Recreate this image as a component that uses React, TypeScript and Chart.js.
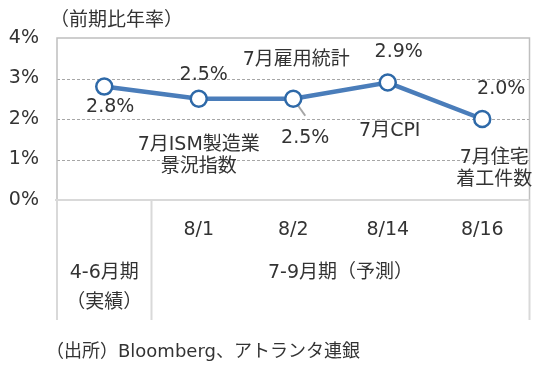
import React, { useEffect, useRef } from "react";
import { Chart, registerables } from "chart.js";

Chart.register(...registerables);

const categories = ["4-6月期（実績）", "8/1", "8/2", "8/14", "8/16"];
const tickLabels = ["", "8/1", "8/2", "8/14", "8/16"];
const values = [2.8, 2.5, 2.5, 2.9, 2.0];
const valueLabels = ["2.8%", "2.5%", "2.5%", "2.9%", "2.0%"];
const eventLabels = [[], ["7月ISM製造業", "景況指数"], ["7月雇用統計"], ["7月CPI"], ["7月住宅", "着工件数"]];
const groupLabels = [["4-6月期", "（実績）"], ["7-9月期（予測）"]];
const groupSpans = [[0, 0], [1, 4]];
const yTicks = [0, 1, 2, 3, 4];
const titleText = "（前期比年率）";
const sourceText = "（出所）Bloomberg、アトランタ連銀";

const FONT = "'DejaVu Sans', 'Noto Sans CJK JP', sans-serif";
const TEXT = "#333333";

// label placement relative to each point (pixels)
const valueOffsets = [[6, 20], [5, -24], [12, 39], [11, -30], [19, -30]];
const eventOffsets = [[0, 0], [0, 46], [3, -39], [2, 49], [12, 39]];
const leaderIndex = 2;

const overlay = {
  id: "overlay",
  beforeDatasetsDraw(chart: any) {
    const { ctx, chartArea, scales } = chart;
    const y = scales.y;
    ctx.save();
    // dashed gridlines
    ctx.strokeStyle = "#A6A6A6";
    ctx.lineWidth = 1;
    ctx.setLineDash([3, 2]);
    yTicks.forEach((t) => {
      if (t === 0 || t === 4) return;
      const py = Math.round(y.getPixelForValue(t)) + 0.5;
      ctx.beginPath();
      ctx.moveTo(chartArea.left, py);
      ctx.lineTo(chartArea.right, py);
      ctx.stroke();
    });
    ctx.setLineDash([]);
    // plot border
    ctx.strokeStyle = "#BFBFBF";
    ctx.lineWidth = 1.5;
    ctx.beginPath();
    ctx.moveTo(chartArea.left, chartArea.bottom);
    ctx.lineTo(chartArea.left, chartArea.top);
    ctx.lineTo(chartArea.right, chartArea.top);
    ctx.lineTo(chartArea.right, chartArea.bottom);
    ctx.stroke();
    // table lines
    const tableBottom = 320;
    const x = scales.x;
    ctx.strokeStyle = "#D9D9D9";
    ctx.lineWidth = 2;
    ctx.beginPath();
    ctx.moveTo(chartArea.left - 2, chartArea.bottom);
    ctx.lineTo(chartArea.right, chartArea.bottom);
    ctx.stroke();
    const half = (x.getPixelForValue(1) - x.getPixelForValue(0)) / 2;
    const xs = [chartArea.left, x.getPixelForValue(0) + half, chartArea.right];
    xs.forEach((vx) => {
      ctx.beginPath();
      ctx.moveTo(vx, chartArea.bottom);
      ctx.lineTo(vx, tableBottom);
      ctx.stroke();
    });
    // leader line
    const lp = chart.getDatasetMeta(0).data[leaderIndex];
    ctx.strokeStyle = "#A6A6A6";
    ctx.lineWidth = 2;
    ctx.beginPath();
    ctx.moveTo(lp.x, lp.y);
    ctx.lineTo(lp.x + 12, lp.y + 17);
    ctx.stroke();
    ctx.restore();
  },
  afterDraw(chart: any) {
    const { ctx, chartArea, scales } = chart;
    const x = scales.x;
    const pts = chart.getDatasetMeta(0).data;
    ctx.save();
    ctx.fillStyle = TEXT;
    ctx.textBaseline = "middle";
    ctx.textAlign = "center";
    ctx.font = `19px ${FONT}`;
    pts.forEach((p: any, i: number) => {
      ctx.fillText(valueLabels[i], p.x + valueOffsets[i][0], p.y + valueOffsets[i][1]);
      eventLabels[i].forEach((line: string, j: number) => {
        ctx.fillText(line, p.x + eventOffsets[i][0], p.y + eventOffsets[i][1] + j * 22);
      });
    });
    // tick labels
    tickLabels.forEach((t, i) => {
      if (t) ctx.fillText(t, x.getPixelForValue(i), chartArea.bottom + 30);
    });
    // group labels
    groupLabels.forEach((lines, g) => {
      const [a, b] = groupSpans[g];
      const cx = (x.getPixelForValue(a) + x.getPixelForValue(b)) / 2;
      lines.forEach((line, j) => {
        ctx.fillText(line, cx, chartArea.bottom + 73 + j * 30);
      });
    });
    // title & source
    ctx.textAlign = "left";
    ctx.fillText(titleText, 50, 21);
    ctx.font = `18px ${FONT}`;
    ctx.fillText(sourceText, 46, 352);
    ctx.restore();
  },
};

export default function App() {
  const ref = useRef<HTMLCanvasElement>(null);
  useEffect(() => {
    if (!ref.current) return;
    const chart = new Chart(ref.current, {
      type: "line",
      data: {
        labels: categories,
        datasets: [
          {
            data: values,
            borderColor: "#4A7DBA",
            borderWidth: 4.5,
            pointRadius: 8,
            pointBorderWidth: 2.5,
            pointBackgroundColor: "#FFFFFF",
            pointBorderColor: "#2E69A8",
            tension: 0,
          },
        ],
      },
      plugins: [overlay],
      options: {
        responsive: false,
        animation: false,
        devicePixelRatio: 1,
        layout: { padding: { left: 0, top: 38, right: 5, bottom: 173 } },
        plugins: { legend: { display: false }, tooltip: { enabled: false }, title: { display: false } },
        scales: {
          x: { type: "category", offset: true, display: false },
          y: {
            min: 0,
            max: 4,
            afterFit: (s: any) => { s.width = 57; },
            grid: { display: false, drawTicks: false },
            border: { display: false },
            ticks: {
              stepSize: 1,
              padding: 18,
              color: TEXT,
              font: { family: FONT, size: 19 },
              callback: (v: any) => `${v}%`,
            },
          },
        },
      },
    });
    return () => chart.destroy();
  }, []);
  return (
    <div style={{ position: "absolute", left: 0, top: 0, width: 540, height: 373, background: "#fff" }}>
      <canvas ref={ref} width={540} height={373} />
    </div>
  );
}
